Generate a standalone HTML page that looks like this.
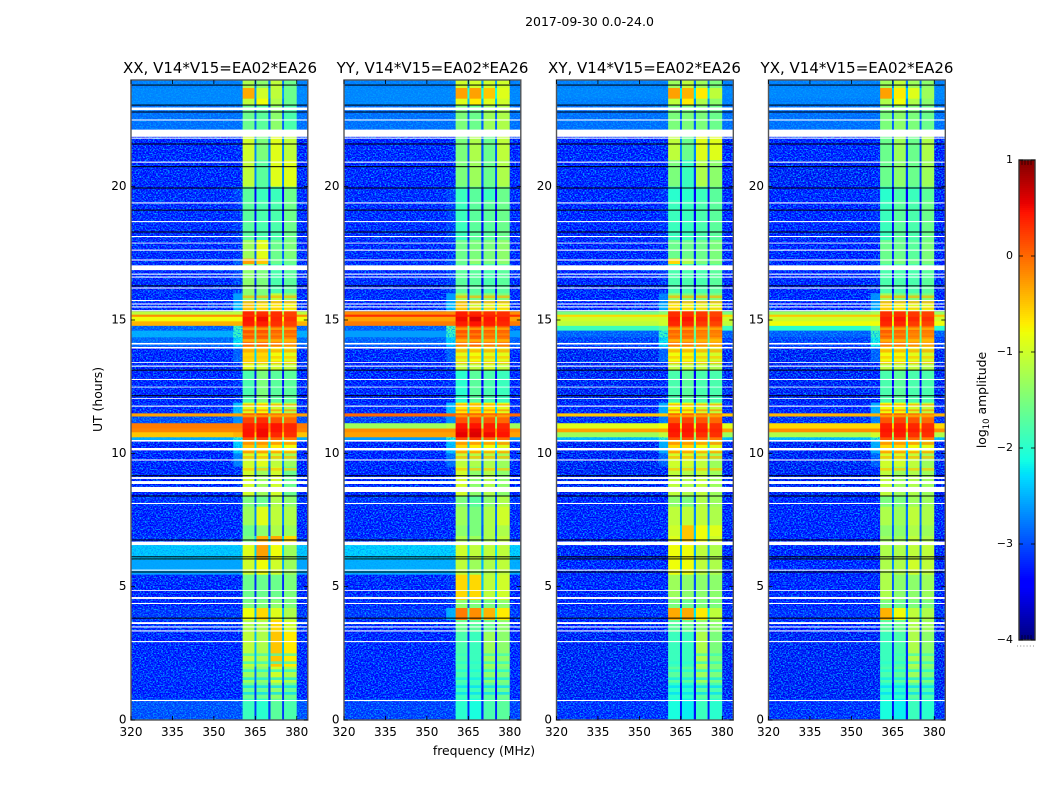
<!DOCTYPE html>
<html lang="en">
<head>
<meta charset="utf-8">
<title>2017-09-30 amplitude waterfall</title>
<style>
html,body{margin:0;padding:0;background:#fff;width:1050px;height:800px;overflow:hidden}
svg{display:block}
text{font-family:"DejaVu Sans","Liberation Sans",sans-serif;fill:#000}
.tick{font-size:12px}
.title{font-size:15px;text-anchor:middle}
.label{font-size:12.4px;text-anchor:middle}
</style>
</head>
<body>
<svg id="chart" xmlns="http://www.w3.org/2000/svg" width="1050" height="800" viewBox="0 0 1050 800">
  <defs>
    <filter id="speckle" x="0" y="0" width="100%" height="100%" color-interpolation-filters="sRGB">
      <feTurbulence type="fractalNoise" baseFrequency="0.6 0.75" numOctaves="2" seed="7"/>
      <feColorMatrix type="matrix" values="0 0 0 0 0  0 0 0 0 0.62  0 0 0 0 1  3.6 0 0 0 -1.55"/>
    </filter>
  </defs>
  <rect width="1050" height="800" fill="#fff"/>
  <text x="589.5" y="26" text-anchor="middle" font-size="12.5">2017-09-30 0.0-24.0</text>
  <text class="title" x="220" y="73">XX, V14*V15=EA02*EA26</text>
  <text class="title" x="432.5" y="73">YY, V14*V15=EA02*EA26</text>
  <text class="title" x="644.5" y="73">XY, V14*V15=EA02*EA26</text>
  <text class="title" x="857" y="73">YX, V14*V15=EA02*EA26</text>
  <text class="label" x="484" y="755">frequency (MHz)</text>
  <text class="label" transform="translate(102 399.5) rotate(-90)">UT (hours)</text>
  <text class="label" transform="translate(986 400) rotate(-90)">log<tspan font-size="8.5" dy="3">10</tspan><tspan dy="-3"> amplitude</tspan></text>
  <g id="panels"></g>
  <g id="colorbar"></g>
</svg>
<script>
const xTickLabels = [320, 335, 350, 365, 380];
const yTickLabels = [0, 5, 10, 15, 20];
const colorbarTicks = [1, 0, -1, -2, -3, -4];
const freqEdgesMHz = [320, 357, 360.4, 364.7, 365.4, 369.7, 370.5, 374.7, 375.4, 380, 384];
const utEdges = [24, 23.7, 23.3, 23.05, 22.12, 21, 20, 19.5, 18, 17.3, 17.1, 16, 15.65, 15.33, 15.2, 15.12, 14.95, 14.78, 14.6, 14.35, 14, 13.4, 13.1, 11.9, 11.5, 11.38, 11.13, 10.93, 10.79, 10.6, 10.5, 10, 9.5, 8.4, 8, 7.3, 6.9, 6.6, 6, 5.45, 4.5, 4.2, 3.75, 3.3, 2, 1.4, 0.8, 0];
const whiteFlagsUT = [[22.97,22.87],[22.52,22.48],[22.14,21.87],[21.84,21.8],[20.94,20.9],[19.41,19.37],[18.71,18.67],[18.15,18.11],[17.9,17.87],[17.64,17.6],[17.27,17.23],[17.05,16.87],[16.74,16.7],[16.63,16.59],[16.22,16.18],[15.75,15.71],[15.62,15.58],[15.51,15.47],[15.37,15.33],[14.14,14.08],[13.99,13.93],[13.42,13.39],[13.29,13.25],[12.79,12.75],[12.5,12.47],[12.07,12.04],[11.79,11.75],[10.5,10.44],[10.2,10.11],[9.77,9.73],[9.11,9.04],[8.96,8.85],[8.74,8.55],[8.14,8.1],[6.69,6.56],[5.64,5.6],[4.87,4.84],[4.61,4.54],[4.39,4.35],[3.67,3.6],[3.51,3.47],[3.36,3.32],[2.96,2.92],[0.75,0.71]];
const blackFlagsUT = [23.81,23.06,22.8,21.6,20.75,19.95,19.12,18.3,16.28,13.12,12.16,9.16,8.4,6.75,6.12,6.04,5.55,3.82];
/* narrow stripes inside the 360-380 MHz bands: start UT, end UT, log10 amplitude */
const bandStripes = [[15.92,15.82,-0.4],[15.72,15.62,-0.35],[15.5,15.4,-0.5],[14.72,14.62,-0.45],[14.5,14.42,-0.2],[14.28,14.18,-0.5],[13.9,13.78,-0.3],[13.65,13.55,-0.5],[13.45,13.35,-0.4],[11.85,11.75,-0.35],[11.65,11.58,-0.2],[11.45,11.35,-0.4],[10.42,10.32,-0.1],[10.08,10.0,-0.2],[9.9,9.8,-0.4],[9.45,9.35,-0.5],[2.5,2.4,-1.9],[2.2,2.1,-2.0],[1.9,1.8,-2.1],[1.6,1.5,-2.2],[1.3,1.2,-2.3],[1.05,0.95,-2.3]];
/* each row: background, edge-of-band, sub-band 1, sub-band 2, sub-band 3, sub-band 4 (log10 amplitude) */
const xxValues = [
[-2.8,-2.8,-1.2,-1.4,-1.1,-1.6],[-2.75,-2.75,-0.35,-1.0,-1.1,-1.6],[-2.75,-2.75,-1.1,-0.8,-1.2,-1.6],[-2.9,-2.9,-1.6,-1.7,-1.4,-1.8],
[-3.4,-3.35,-1.0,-1.5,-0.9,-1.1],[-3.45,-3.4,-1.1,-1.7,-0.9,-0.9],[-3.35,-3.2,-1.7,-1.9,-1.9,-1.6],[-3.35,-3.25,-1.7,-1.8,-1.8,-1.6],
[-3.35,-3.3,-1.3,-0.9,-1.6,-1.5],[-3.35,-3.0,-0.3,-0.5,-1.6,-1.6],[-3.35,-3.2,-1.4,-1.5,-1.8,-1.7],[-3.35,-2.6,-1.4,-1.5,-1.1,-1.4],
[-3.35,-2.4,-0.5,-0.7,-0.7,-0.8],[-1.1,-1.1,0.35,0.3,0.3,0.2],[-0.2,-0.2,0.3,0.35,0.3,0.2],[-0.8,-0.8,0.45,0.5,0.35,0.3],
[-0.4,-0.4,0.4,0.4,0.3,0.2],[-3.0,-1.8,0.1,0.2,0.15,0.1],[-2.5,-1.9,0.1,0.1,0,0],[-2.95,-2.2,0,0,-0.1,-0.2],
[-3.4,-3.0,-0.6,-0.6,-0.8,-0.9],[-3.4,-3.3,-0.9,-1.0,-1.0,-1.1],[-3.4,-3.3,-1.8,-1.5,-1.7,-1.7],[-3.35,-2.4,-0.9,-0.8,-1.0,-1.2],
[-0.3,-0.3,0.1,0.2,0,-0.1],[-3.1,-2.7,0.2,0.3,0.1,0],[-0.1,-0.1,0.4,0.45,0.45,0.35],[-0.15,-0.15,0.45,0.5,0.45,0.35],
[-0.5,-0.4,0.45,0.5,0.35,0.3],[-2.5,-2.0,0.1,0.2,0,-0.1],[-3.4,-2.3,-0.5,-0.5,-0.7,-0.8],[-3.4,-2.8,-1.0,-0.9,-1.1,-1.3],
[-3.4,-3.3,-1.0,-1.3,-1.0,-1.6],[-3.3,-3.3,-1.5,-1.6,-1.2,-1.4],[-3.4,-3.4,-1.3,-0.9,-1.1,-1.2],[-3.4,-3.4,-1.6,-1.4,-1.2,-1.3],
[-3.3,-3.3,-1.5,-0.4,-0.35,-0.6],[-2.35,-2.35,-0.9,-0.3,-0.8,-1.3],[-2.55,-2.55,-1.0,-0.8,-1.0,-1.3],[-3.4,-3.4,-1.6,-1.6,-1.6,-1.5],
[-3.4,-3.4,-1.5,-1.5,-1.4,-1.5],[-3.25,-3.25,-0.8,-0.6,-0.9,-1.2],[-3.3,-3.3,-1.2,-1.2,-0.6,-1.0],[-3.4,-3.4,-1.1,-1.2,-0.5,-0.7],
[-3.35,-3.35,-1.3,-1.4,-1.0,-1.2],[-3.4,-3.4,-1.6,-1.6,-1.4,-1.6],[-3.1,-3.1,-1.9,-2.0,-1.7,-1.8]];
const yyValues = [
[-2.8,-2.8,-1.0,-1.0,-1.0,-1.0],[-2.75,-2.75,-0.3,-0.3,-0.5,-0.9],[-2.75,-2.75,-0.9,-0.7,-0.9,-1.0],[-2.9,-2.9,-1.5,-1.6,-1.3,-1.2],
[-3.4,-3.35,-1.5,-1.2,-1.6,-1.1],[-3.45,-3.4,-1.5,-1.3,-1.6,-1.2],[-3.35,-3.2,-1.9,-1.7,-1.9,-1.6],[-3.35,-3.2,-1.9,-1.7,-1.7,-1.6],
[-3.35,-3.3,-1.6,-1.5,-1.5,-1.4],[-3.35,-3.1,-1.6,-1.4,-1.5,-1.4],[-3.35,-3.2,-1.7,-1.7,-1.8,-1.7],[-3.35,-2.6,-1.3,-1.6,-1.4,-1.5],
[-3.35,-2.4,-0.5,-1.0,-0.9,-0.8],[-0.2,-0.2,0.4,0.35,0.3,0.3],[0.3,0.3,0.4,0.4,0.35,0.3],[-0.3,-0.3,0.5,0.6,0.45,0.4],
[-0.1,-0.1,0.4,0.45,0.4,0.35],[-3.0,-1.7,0.15,0.2,0.15,0.1],[-2.6,-1.9,0.1,0.1,0,0],[-3.0,-2.3,-0.1,0,-0.1,-0.1],
[-3.4,-3.0,-0.9,-0.8,-0.9,-0.9],[-3.4,-3.3,-1.1,-1.1,-1.0,-1.1],[-3.4,-3.3,-2.0,-1.7,-1.8,-1.9],[-3.35,-2.4,-0.7,-0.6,-0.7,-0.9],
[0.0,0.0,0.1,0.1,0.1,0],[-3.2,-2.7,0.1,0.2,0.1,0],[-1.3,-1.2,0.45,0.45,0.4,0.35],[-0.2,-0.2,0.5,0.55,0.4,0.4],
[-0.3,-0.3,0.55,0.6,0.5,0.45],[-2.6,-2.0,0.1,0.2,0,0],[-3.4,-2.4,-0.6,-0.7,-0.8,-0.9],[-3.4,-2.9,-1.1,-1.2,-1.2,-1.3],
[-3.4,-3.3,-1.0,-1.4,-1.2,-1.4],[-3.3,-3.3,-1.5,-1.7,-1.4,-1.2],[-3.4,-3.4,-1.3,-1.5,-1.2,-1.0],[-3.4,-3.4,-1.4,-1.5,-1.2,-1.2],
[-3.3,-3.3,-1.2,-1.3,-1.2,-1.1],[-2.3,-2.3,-1.0,-1.1,-1.1,-1.1],[-2.5,-2.5,-1.1,-1.3,-1.2,-1.1],[-3.4,-3.3,-0.6,-0.6,-1.1,-1.0],
[-3.35,-3.3,-1.4,-1.5,-1.5,-1.4],[-3.25,-2.5,-0.1,-0.2,-0.4,-0.7],[-3.35,-3.3,-1.6,-1.7,-1.6,-1.4],[-3.45,-3.45,-1.8,-1.9,-1.3,-1.4],
[-3.45,-3.45,-1.8,-1.9,-1.4,-1.5],[-3.45,-3.45,-1.9,-1.9,-1.7,-1.6],[-3.2,-3.2,-2.0,-2.1,-1.8,-1.7]];
const xyValues = [
[-2.8,-2.8,-1.3,-1.1,-1.3,-1.5],[-2.75,-2.75,-0.3,-0.4,-0.7,-1.1],[-2.8,-2.8,-1.1,-0.7,-1.2,-1.4],[-2.9,-2.9,-1.5,-1.5,-1.5,-1.6],
[-3.4,-3.35,-1.1,-1.6,-0.9,-0.9],[-3.45,-3.4,-1.5,-1.9,-1.2,-1.4],[-3.45,-3.3,-2.0,-2.0,-1.9,-1.7],[-3.45,-3.3,-1.9,-1.9,-1.8,-1.7],
[-3.4,-3.4,-1.6,-1.6,-1.6,-1.5],[-3.4,-3.2,-0.6,-1.2,-1.5,-1.5],[-3.4,-3.3,-1.8,-1.8,-1.8,-1.7],[-3.4,-2.8,-1.4,-1.5,-1.5,-1.5],
[-3.4,-2.5,-0.7,-0.8,-0.9,-0.9],[-1.5,-1.4,0.3,0.3,0.25,0.2],[-0.6,-0.6,0.3,0.3,0.25,0.2],[-1.0,-1.0,0.4,0.45,0.35,0.3],
[-1.1,-1.0,0.35,0.35,0.25,0.2],[-1.9,-1.7,0.1,0.1,0.05,0],[-3.0,-1.9,0,0,-0.1,-0.1],[-3.2,-2.2,-0.1,-0.1,-0.2,-0.3],
[-3.5,-3.0,-0.8,-0.8,-0.9,-1.0],[-3.5,-3.4,-1.1,-1.1,-1.1,-1.2],[-3.5,-3.4,-1.8,-1.7,-1.8,-1.8],[-3.4,-2.5,-0.8,-0.8,-1.0,-1.1],
[-0.5,-0.5,0.1,0.1,0,-0.1],[-3.3,-2.8,0.1,0.2,0.1,0],[-0.9,-0.8,0.4,0.4,0.35,0.3],[-0.3,-0.3,0.45,0.45,0.4,0.35],
[-1.3,-1.1,0.4,0.4,0.3,0.3],[-2.4,-1.9,0.1,0.1,0,-0.1],[-3.5,-2.5,-0.6,-0.6,-0.8,-0.9],[-3.5,-3.0,-1.0,-1.0,-1.1,-1.3],
[-3.5,-3.4,-1.1,-1.2,-1.1,-1.3],[-3.4,-3.4,-1.4,-1.5,-1.2,-1.3],[-3.45,-3.45,-1.1,-1.1,-1.1,-1.2],[-3.45,-3.45,-1.0,-0.5,-0.8,-0.9],
[-3.4,-3.4,-0.9,-0.5,-0.8,-1.0],[-3.45,-3.45,-0.8,-0.8,-1.1,-1.2],[-3.4,-3.4,-0.8,-0.8,-1.1,-1.2],[-3.45,-3.45,-1.3,-1.4,-1.4,-1.4],
[-3.45,-3.45,-1.5,-1.6,-1.5,-1.5],[-3.3,-3.3,-0.35,-0.35,-0.7,-1.1],[-3.4,-3.4,-1.7,-1.6,-1.4,-1.4],[-3.5,-3.5,-1.9,-1.9,-1.2,-1.5],
[-3.5,-3.5,-1.7,-1.7,-1.3,-1.5],[-3.5,-3.5,-2.0,-2.0,-1.7,-1.8],[-3.3,-3.3,-2.1,-2.2,-1.9,-2.0]];
const yxValues = [
[-2.8,-2.8,-1.3,-1.1,-1.3,-1.4],[-2.75,-2.75,-0.3,-0.7,-0.9,-1.3],[-2.8,-2.8,-1.2,-0.8,-1.2,-1.4],[-2.9,-2.9,-1.5,-1.4,-1.5,-1.6],
[-3.4,-3.35,-1.6,-1.3,-1.6,-1.2],[-3.5,-3.45,-1.6,-1.4,-1.6,-1.3],[-3.4,-3.3,-2.0,-1.8,-1.9,-1.7],[-3.4,-3.3,-1.9,-1.7,-1.8,-1.6],
[-3.4,-3.4,-1.6,-1.6,-1.7,-1.5],[-3.4,-3.2,-1.6,-1.5,-1.6,-1.5],[-3.4,-3.3,-1.8,-1.8,-1.8,-1.7],[-3.4,-2.7,-1.3,-1.5,-1.5,-1.5],
[-3.4,-2.5,-0.6,-0.8,-0.9,-0.9],[-1.3,-1.2,0.3,0.3,0.25,0.2],[-0.5,-0.5,0.3,0.3,0.25,0.2],[-1.0,-1.0,0.4,0.45,0.35,0.3],
[-0.8,-0.8,0.35,0.35,0.25,0.2],[-2.0,-1.6,0.15,0.1,0.05,0],[-3.0,-1.9,0.05,0,-0.1,-0.1],[-3.2,-2.1,-0.1,-0.1,-0.2,-0.3],
[-3.5,-3.0,-0.8,-0.8,-0.9,-1.0],[-3.5,-3.4,-1.1,-1.1,-1.1,-1.2],[-3.5,-3.4,-1.8,-1.7,-1.8,-1.8],[-3.4,-2.5,-0.8,-0.8,-1.0,-1.1],
[-0.4,-0.4,0.1,0.1,0,-0.1],[-3.3,-2.8,0.1,0.2,0.1,0],[-0.6,-0.6,0.4,0.4,0.35,0.3],[-0.2,-0.2,0.45,0.45,0.4,0.35],
[-1.2,-1.0,0.4,0.4,0.3,0.3],[-2.4,-1.9,0.1,0.1,0,-0.1],[-3.5,-2.5,-0.6,-0.6,-0.8,-0.9],[-3.5,-3.0,-1.0,-1.0,-1.1,-1.3],
[-3.5,-3.4,-1.1,-1.3,-1.2,-1.3],[-3.4,-3.4,-1.5,-1.5,-1.3,-1.3],[-3.45,-3.45,-1.2,-1.3,-1.1,-1.2],[-3.45,-3.45,-1.4,-1.4,-1.2,-1.3],
[-3.4,-3.4,-1.3,-1.3,-1.1,-1.2],[-3.45,-3.45,-1.2,-1.2,-1.1,-1.1],[-3.4,-3.4,-1.2,-1.2,-1.0,-1.1],[-3.45,-3.45,-1.2,-1.4,-1.4,-1.3],
[-3.45,-3.45,-1.5,-1.6,-1.5,-1.5],[-3.3,-3.3,-0.4,-0.8,-1.1,-1.2],[-3.4,-3.4,-1.7,-1.6,-1.2,-1.3],[-3.5,-3.5,-1.9,-1.8,-1.2,-1.4],
[-3.5,-3.5,-1.8,-1.7,-1.3,-1.5],[-3.5,-3.5,-2.0,-2.0,-1.7,-1.8],[-3.3,-3.3,-2.1,-2.2,-1.9,-2.0]];

const panelNames = ['xx', 'yy', 'xy', 'yx'];
const panelValues = [xxValues, yyValues, xyValues, yxValues];
const panelLefts = [131, 344, 556.5, 768.5];
const panelWidth = 176.8;
const plotTop = 80;
const plotBottom = 720;
const vmin = -4;
const vmax = 1;
const SVGNS = 'http://www.w3.org/2000/svg';

function xScale(mhz, left) { return left + (mhz - 320) * panelWidth / 64; }
function yScale(ut) { return plotBottom - ut * (plotBottom - plotTop) / 24; }
function interp(stops, t) {
  for (let i = 1; i < stops.length; i++) {
    if (t <= stops[i][0]) {
      const a = stops[i - 1], b = stops[i];
      return a[1] + (b[1] - a[1]) * (t - a[0]) / (b[0] - a[0]);
    }
  }
  return stops[stops.length - 1][1];
}
const jetR = [[0,0],[0.35,0],[0.66,1],[0.89,1],[1,0.5]];
const jetG = [[0,0],[0.125,0],[0.375,1],[0.64,1],[0.91,0],[1,0]];
const jetB = [[0,0.5],[0.11,1],[0.34,1],[0.65,0],[1,0]];
function jet(v) {
  const t = Math.max(0, Math.min(1, (v - vmin) / (vmax - vmin)));
  const c = s => Math.round(255 * interp(s, t));
  return 'rgb(' + c(jetR) + ',' + c(jetG) + ',' + c(jetB) + ')';
}
function mk(tag, parent, attrs) {
  const el = document.createElementNS(SVGNS, tag);
  for (const k in attrs) el.setAttribute(k, attrs[k]);
  parent.appendChild(el);
  return el;
}
/* value of frequency column c: columns alternate around the sub-bands, gaps follow the band level */
function columnValue(row, c) {
  const mean = (row[2] + row[3] + row[4] + row[5]) / 4;
  const gap = Math.max(row[0], mean - 1.6);
  const lookup = [row[0], row[1], row[2], gap, row[3], gap, row[4], gap, row[5], row[0]];
  return lookup[c];
}

const root = document.getElementById('panels');
const defs = document.querySelector('defs');
panelNames.forEach(function (name, p) {
  const left = panelLefts[p];
  const values = panelValues[p];
  const g = mk('g', root, {});
  
  

  const clip = mk('clipPath', defs, { id: 'quiet-' + name });
  
  

  values.forEach(function (row, r) {
    const y0 = yScale(utEdges[r]);
    const y1 = yScale(utEdges[r + 1]);
    for (let c = 0; c < freqEdgesMHz.length - 1; c++) {
      const x0 = xScale(freqEdgesMHz[c], left);
      const x1 = xScale(freqEdgesMHz[c + 1], left);
      const cell = mk('rect', g, { x: x0, y: y0, width: x1 - x0 + 0.4, height: y1 - y0 + 0.4, fill: jet(columnValue(row, c)) });
      
      
    }
    if (row[0] < -2) {
      [[320, 360.4], [380, 384]].forEach(function (span) {
        const q = mk('rect', clip, { x: xScale(span[0], left), y: y0, width: xScale(span[1], left) - xScale(span[0], left), height: y1 - y0 });
        
        
      });
    }
  });

  bandStripes.forEach(function (s) {
    [2, 4, 6, 8].forEach(function (c) {
      const x0 = xScale(freqEdgesMHz[c], left);
      const x1 = xScale(freqEdgesMHz[c + 1], left);
      const stripe = mk('rect', g, { x: x0, y: yScale(s[0]), width: x1 - x0, height: yScale(s[1]) - yScale(s[0]), fill: jet(s[2]), opacity: 0.7 });
      
      
    });
  });

  const speckleWrap = mk('g', g, { 'clip-path': 'url(#quiet-' + name + ')' });
  
  
  const speckle = mk('rect', speckleWrap, { x: left, y: plotTop, width: panelWidth, height: plotBottom - plotTop, filter: 'url(#speckle)' });
  
  

  blackFlagsUT.forEach(function (ut) {
    const line = mk('rect', g, { x: left, y: yScale(ut) - 0.5, width: panelWidth, height: 1, fill: '#000' });
    
    
  });
  whiteFlagsUT.forEach(function (span) {
    const band = mk('rect', g, { x: left, y: yScale(span[0]), width: panelWidth, height: yScale(span[1]) - yScale(span[0]), fill: '#fff' });
    
    
  });

  const frame = mk('rect', g, { x: left, y: plotTop, width: panelWidth, height: plotBottom - plotTop, fill: 'none', stroke: '#555', 'stroke-width': 1.4 });
  
  

  xTickLabels.forEach(function (v) {
    const x = xScale(v, left);
    [[plotBottom, plotBottom - 4], [plotTop, plotTop + 4]].forEach(function (e) {
      const t = mk('line', g, { x1: x, x2: x, y1: e[0], y2: e[1], stroke: '#000', 'stroke-width': 0.8 });
      
      
    });
    const lab = mk('text', g, { x: x, y: 736, 'text-anchor': 'middle', class: 'tick' });
    
    
    lab.textContent = v;
  });
  yTickLabels.forEach(function (v) {
    const y = yScale(v);
    [[left, left + 4], [left + panelWidth, left + panelWidth - 4]].forEach(function (e) {
      const t = mk('line', g, { x1: e[0], x2: e[1], y1: y, y2: y, stroke: '#000', 'stroke-width': 0.8 });
      
      
    });
    const lab = mk('text', g, { x: left - 4.5, y: y + 3.5, 'text-anchor': 'end', class: 'tick' });
    
    
    lab.textContent = v;
  });
});

/* colorbar */
const cb = document.getElementById('colorbar');
const cbLeft = 1019, cbRight = 1035, cbTop = 160, cbBottom = 640;
function cbScale(v) { return cbBottom - (v - vmin) * (cbBottom - cbTop) / (vmax - vmin); }
for (let y = cbTop; y < cbBottom; y += 2) {
  const v = vmax - (y + 1 - cbTop) * (vmax - vmin) / (cbBottom - cbTop);
  const s = mk('rect', cb, { x: cbLeft, y: y, width: cbRight - cbLeft, height: 2.3, fill: jet(v) });
  
  
}
const cbFrame = mk('rect', cb, { x: cbLeft, y: cbTop, width: cbRight - cbLeft, height: cbBottom - cbTop, fill: 'none', stroke: '#333', 'stroke-width': 1.4 });


colorbarTicks.forEach(function (v) {
  const y = cbScale(v);
  [[cbLeft, cbLeft + 4], [cbRight, cbRight - 4]].forEach(function (e) {
    const t = mk('line', cb, { x1: e[0], x2: e[1], y1: y, y2: y, stroke: '#000', 'stroke-width': 0.8 });
    
    
  });
  const lab = mk('text', cb, { x: 1013, y: y + 3, 'text-anchor': 'end', class: 'tick' });
  lab.style.fontSize = '11px';
  
  
  lab.textContent = String(v).replace('-', '\u2212');
});
[cbTop, cbBottom].forEach(function (y) {
  for (let x = cbLeft + 3; x < cbRight - 1; x += 3) {
    const m = mk('line', cb, { x1: x, x2: x, y1: y, y2: y === cbTop ? y + 5 : y - 5, stroke: '#000', 'stroke-width': 0.6 });
    
    
  }
});
const dots = mk('line', cb, { x1: 1017, x2: 1036, y1: 646, y2: 646, stroke: '#888', 'stroke-width': 1, 'stroke-dasharray': '1 2.2' });


</script>
</body>
</html>
